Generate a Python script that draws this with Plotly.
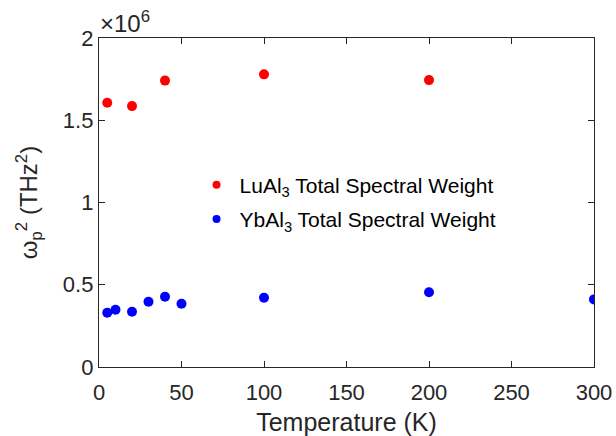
import plotly.graph_objects as go

# Data (temperature in K, plasma-frequency squared in THz^2)
lu_temp = [5, 20, 40, 100, 200]
lu_weight = [1.606e6, 1.586e6, 1.741e6, 1.779e6, 1.744e6]

yb_temp = [5, 10, 20, 30, 40, 50, 100, 200, 300]
yb_weight = [0.330e6, 0.348e6, 0.336e6, 0.397e6, 0.427e6, 0.385e6, 0.421e6, 0.454e6, 0.411e6]

x_ticks = [0, 50, 100, 150, 200, 250, 300]
y_ticks = [0, 0.5e6, 1.0e6, 1.5e6, 2.0e6]
y_tick_labels = ["0", "0.5", "1", "1.5", "2"]

lu_name = "LuAl<sub>3</sub> Total Spectral Weight"
yb_name = "YbAl<sub>3</sub> Total Spectral Weight"

FONT = "Liberation Sans"
AX = "#262626"

fig = go.Figure()
fig.add_trace(go.Scatter(x=lu_temp, y=lu_weight, mode="markers",
                         marker=dict(color="#ff0000", size=10), showlegend=False))
fig.add_trace(go.Scatter(x=yb_temp, y=yb_weight, mode="markers",
                         marker=dict(color="#0000ff", size=10), showlegend=False))
# legend entries (smaller symbols, as in the reference)
fig.add_trace(go.Scatter(x=[None], y=[None], mode="markers", name=lu_name,
                         marker=dict(color="#ff0000", size=8), legendgroup="a"))
fig.add_trace(go.Scatter(x=[None], y=[None], mode="markers", name=yb_name,
                         marker=dict(color="#0000ff", size=8), legendgroup="b"))

axis_common = dict(showline=True, linecolor=AX, linewidth=1.4, mirror="ticks",
                   ticks="inside", ticklen=6, tickwidth=1.3, tickcolor=AX,
                   showgrid=False, zeroline=False, automargin=False,
                   tickfont=dict(family=FONT, size=22, color=AX))

fig.update_xaxes(range=[0, 300], tickvals=x_ticks, ticklabelstandoff=5,
                 title=dict(text="Temperature (K)", font=dict(family=FONT, size=25, color=AX),
                            standoff=10),
                 **axis_common)
fig.update_yaxes(range=[0, 2.0e6], tickvals=y_ticks, ticktext=y_tick_labels,
                 title=dict(text="ω<sub>p</sub><sup>2</sup> (THz<sup>2</sup>)",
                            font=dict(family=FONT, size=24, color=AX), standoff=18),
                 **axis_common)

fig.add_annotation(text="×10<sup>6</sup>", xref="paper", yref="paper", x=0, y=1,
                   xanchor="left", yanchor="bottom", showarrow=False, xshift=-1, yshift=-1,
                   font=dict(family=FONT, size=24, color=AX))

fig.update_layout(
    width=616, height=436,
    margin=dict(l=98.5, r=21.5, t=37.5, b=69, autoexpand=False),
    paper_bgcolor="white", plot_bgcolor="white",
    legend=dict(x=0.191, y=0.615, xanchor="left", yanchor="top",
                traceorder="grouped", tracegroupgap=4, itemwidth=36,
                font=dict(family=FONT, size=21, color="#000000"),
                bgcolor="rgba(0,0,0,0)"),
)

fig.write_html("out.html", config={"displayModeBar": False},
               post_script="document.body.style.margin='0';document.body.style.padding='0';")
